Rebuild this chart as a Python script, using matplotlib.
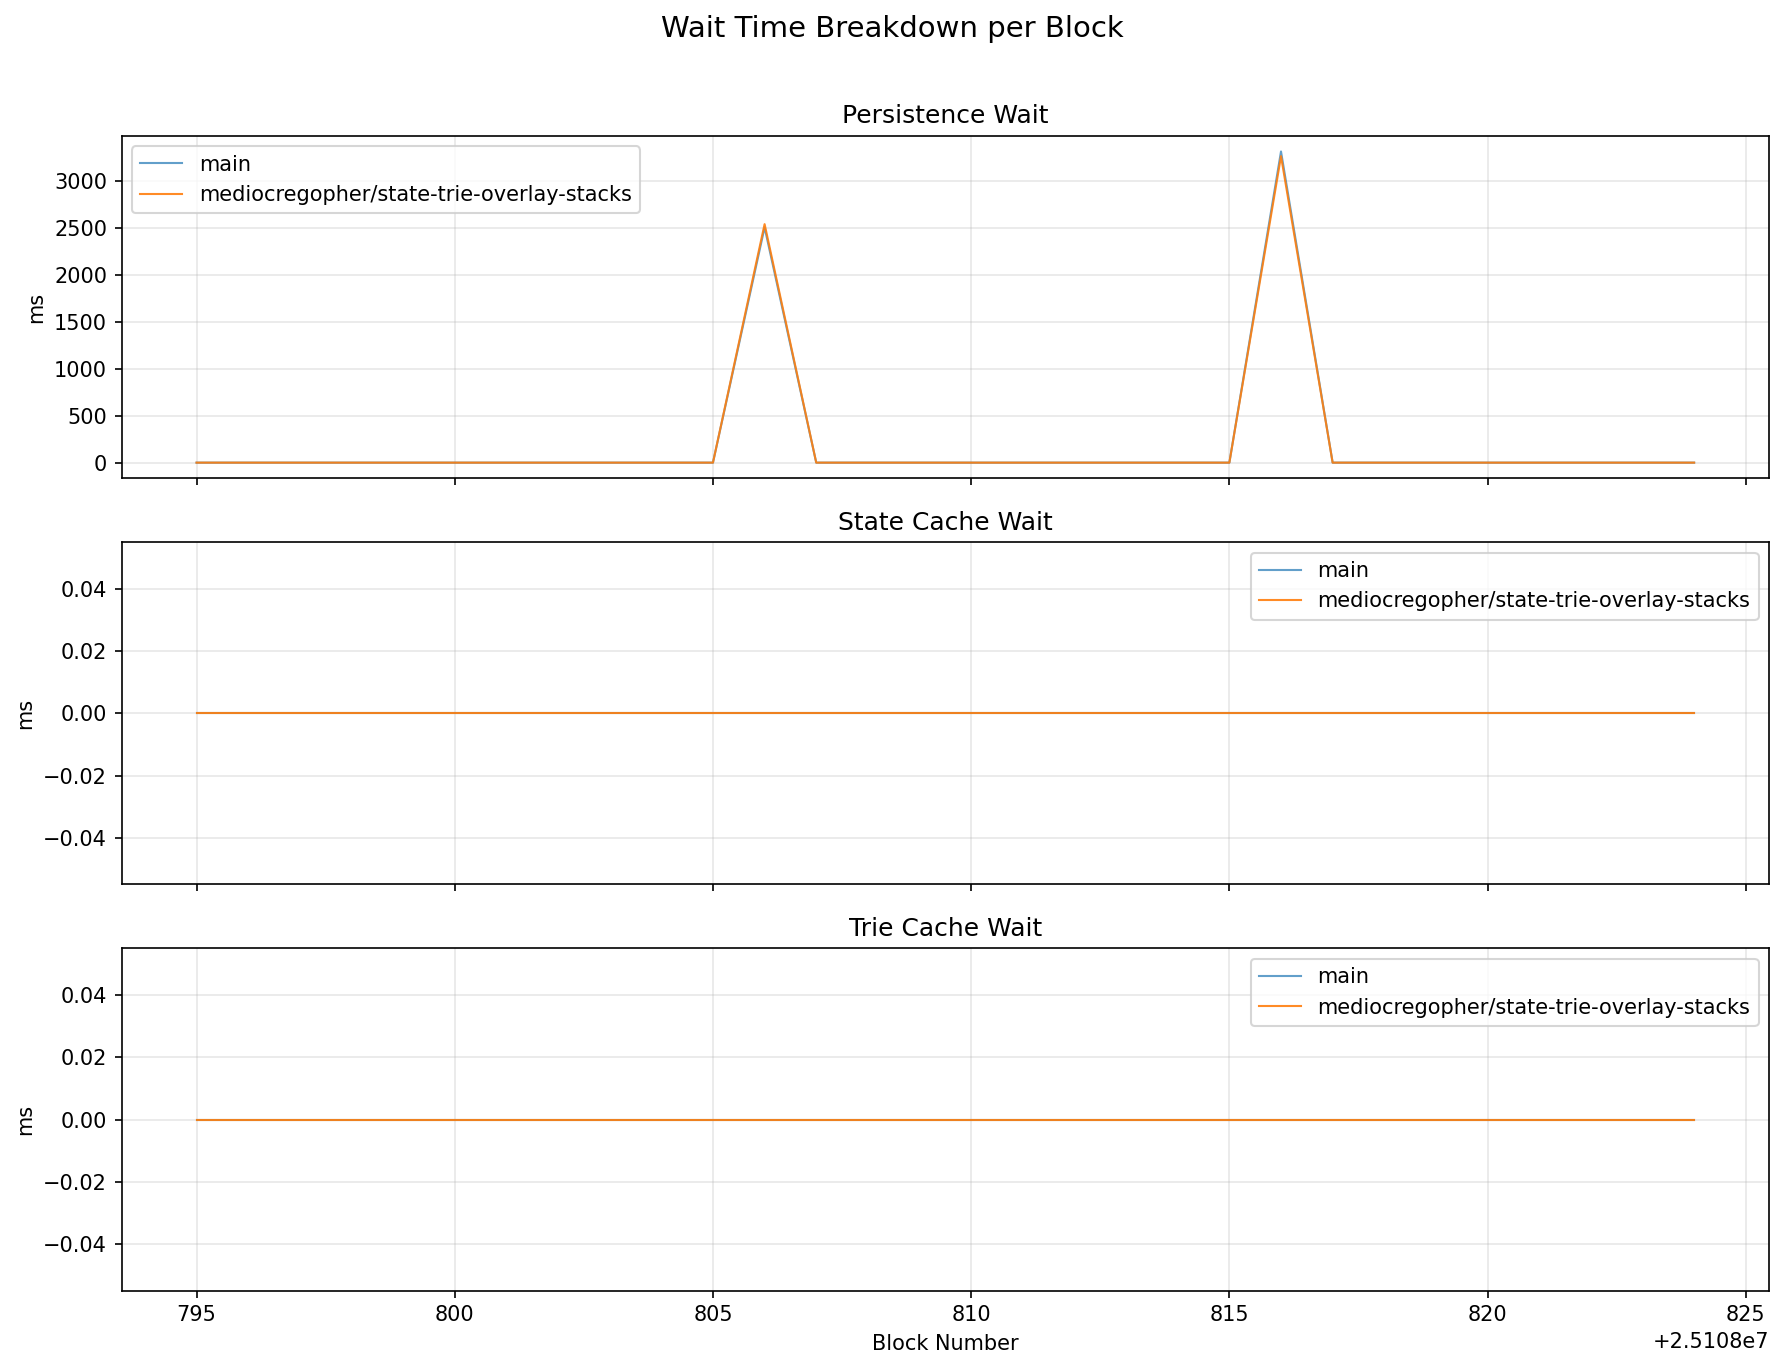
import matplotlib

matplotlib.use("Agg")
import matplotlib.pyplot as plt

# block numbers 25108795 .. 25108824
blocks = [
    25108795, 25108796, 25108797, 25108798, 25108799, 25108800,
    25108801, 25108802, 25108803, 25108804, 25108805, 25108806,
    25108807, 25108808, 25108809, 25108810, 25108811, 25108812,
    25108813, 25108814, 25108815, 25108816, 25108817, 25108818,
    25108819, 25108820, 25108821, 25108822, 25108823, 25108824,
]

persist_main = [0, 0, 0, 0, 0, 0, 0, 0, 0, 0, 0, 2510,
                0, 0, 0, 0, 0, 0, 0, 0, 0, 3320, 0, 0,
                0, 0, 0, 0, 0, 0]
persist_pr = [0, 0, 0, 0, 0, 0, 0, 0, 0, 0, 0, 2545,
              0, 0, 0, 0, 0, 0, 0, 0, 0, 3270, 0, 0,
              0, 0, 0, 0, 0, 0]
state_main = [0] * 30
state_pr = [0] * 30
trie_main = [0] * 30
trie_pr = [0] * 30

labels = ["main", "mediocregopher/state-trie-overlay-stacks"]
panels = [
    ("Persistence Wait", persist_main, persist_pr),
    ("State Cache Wait", state_main, state_pr),
    ("Trie Cache Wait", trie_main, trie_pr),
]

fig, axes = plt.subplots(3, 1, figsize=(1784 / 150, 1369 / 150), dpi=150,
                         sharex=True)
fig.suptitle("Wait Time Breakdown per Block", fontsize=14, y=0.979, va="center")

for ax, (title, main_vals, pr_vals) in zip(axes, panels):
    ax.plot(blocks, main_vals, color="C0", linewidth=1, alpha=0.7, label=labels[0])
    ax.plot(blocks, pr_vals, color="C1", linewidth=1, alpha=0.9, label=labels[1])
    ax.set_title(title)
    ax.set_ylabel("ms")
    ax.grid(True, alpha=0.3)
    ax.legend()

axes[-1].set_xlabel("Block Number")

fig.subplots_adjust(left=0.0682, right=0.9916, top=0.9007, bottom=0.0572,
                    hspace=0.187)
fig.savefig("out.png", dpi=150)
